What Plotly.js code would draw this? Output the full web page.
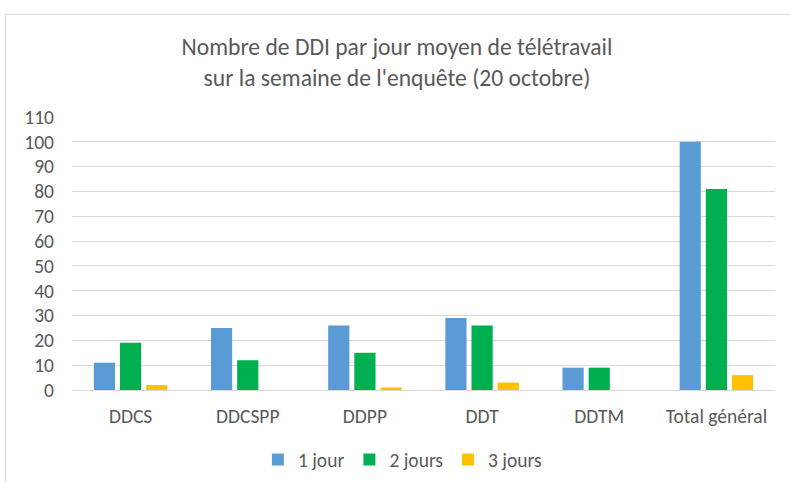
<!DOCTYPE html>
<html>
<head>
<meta charset="utf-8">
<script src="https://cdn.plot.ly/plotly-3.0.1.min.js"></script>
<style>
html,body{margin:0;padding:0;background:#fff;}
#chart{width:790px;height:482px;position:absolute;left:0;top:0;}
#frame{position:absolute;left:5px;top:14px;width:800px;height:500px;border-left:1px solid #d9d9d9;border-top:1px solid #d9d9d9;pointer-events:none;}
</style>
</head>
<body>
<div id="chart"></div>
<div id="frame"></div>
<script>
const categories = ["DDCS", "DDCSPP", "DDPP", "DDT", "DDTM", "Total général"];
const seriesNames = ["1 jour", "2 jours", "3 jours"];
const jour1 = [11, 25, 26, 29, 9, 100];
const jours2 = [19, 12, 15, 26, 9, 81];
const jours3 = [2, 0, 1, 3, 0, 6];
const colors = ["#5b9bd5", "#00b050", "#ffc000"];
const yTicks = [0, 10, 20, 30, 40, 50, 60, 70, 80, 90, 100, 110];

const font = "Calibri, Carlito, 'Open Sans', sans-serif";
const data = [jour1, jours2, jours3].map((vals, i) => ({
  type: "bar",
  name: seriesNames[i],
  x: categories,
  y: vals,
  marker: {color: colors[i]},
  hoverinfo: "x+y+name"
}));

const layout = {
  width: 790, height: 482,
  margin: {l: 72, r: 15, t: 117, b: 92},
  paper_bgcolor: "#fff", plot_bgcolor: "#fff",
  font: {family: font, color: "#595959", size: 19.5},
  title: {
    text: "Nombre de DDI par jour moyen de télétravail<br>sur la semaine de l'enquête (20 octobre)",
    font: {family: font, size: 23.6, color: "#595959"},
    xref: "container", x: 0.5025, xanchor: "center", y: 0.886, yanchor: "top"
  },
  barmode: "group",
  bargap: 0.33,
  bargroupgap: 0.19,
  xaxis: {
    showgrid: false, showline: true, linecolor: "#d9d9d9", linewidth: 1,
    ticks: "", tickfont: {size: 19.5, color: "#595959"}, ticklabelstandoff: 9,
    automargin: false
  },
  yaxis: {
    range: [0, 110], tickvals: yTicks, ticktext: yTicks.map(String),
    showgrid: true, gridcolor: "#d9d9d9", gridwidth: 1,
    zeroline: false, showline: false, ticks: "",
    tickfont: {size: 19.5, color: "#595959"}, ticklabelstandoff: 17,
    automargin: false
  },
  legend: {
    orientation: "h", x: 0.47, xanchor: "center",
    yref: "container", y: 0.046, yanchor: "middle",
    font: {size: 19.5, color: "#595959"}, itemwidth: 30, traceorder: "normal"
  },
  showlegend: true
};

Plotly.newPlot("chart", data, layout, {displayModeBar: false, staticPlot: true});
</script>
</body>
</html>
